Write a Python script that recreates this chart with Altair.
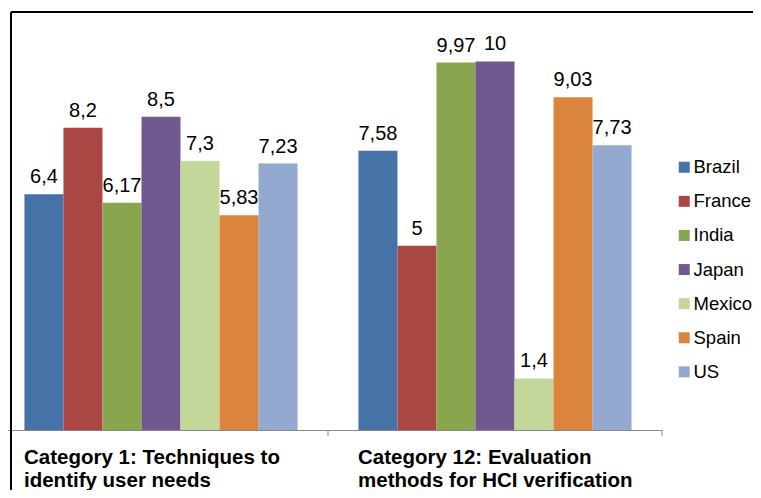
import altair as alt
import pandas as pd

countries = ["Brazil", "France", "India", "Japan", "Mexico", "Spain", "US"]
categories = [
    "Category 1: Techniques to identify user needs",
    "Category 12: Evaluation methods for HCI verification",
]
category_lines = [
    ["Category 1: Techniques to", "identify user needs"],
    ["Category 12: Evaluation", "methods for HCI verification"],
]
cat1_values = [6.4, 8.2, 6.17, 8.5, 7.3, 5.83, 7.23]
cat12_values = [7.58, 5, 9.97, 10, 1.4, 9.03, 7.73]
colors = ["#4572A7", "#AA4643", "#89A54E", "#71588F", "#C4D79B", "#DB843D", "#93A9CF"]

rows = []
for cat, vals in zip(categories, [cat1_values, cat12_values]):
    for c, v in zip(countries, vals):
        rows.append({"category": cat, "country": c, "value": v})
df = pd.DataFrame(rows)
cat_df = pd.DataFrame({"category": categories})

label_expr = (
    f"datum.label == '{categories[0]}' ? {category_lines[0]!r} : {category_lines[1]!r}"
)

FONT = "Liberation Sans"

x_enc = alt.X(
    "category:N",
    sort=categories,
    scale=alt.Scale(range=[-14, 654], paddingInner=0, paddingOuter=0),
    axis=alt.Axis(
        title=None,
        domainColor="#888888",
        domainWidth=1,
        ticks=False,
        labelAngle=0,
        labelAlign="left",
        labelBaseline="alphabetic",
        labelFont=FONT,
        labelFontWeight="bold",
        labelFontSize=20.5,
        labelLineHeight=23.5,
        labelPadding=33,
        labelOffset=-137,
        labelColor="#000000",
        labelLimit=500,
        labelOverlap=False,
        labelFlush=False,
        labelExpr=label_expr,
    ),
)
xoff_enc = alt.XOffset(
    "country:N", sort=countries,
    scale=alt.Scale(paddingInner=0, paddingOuter=0.78),
)
y_enc = alt.Y("value:Q", scale=alt.Scale(domain=[0, 11.343], nice=False, zero=True), axis=None)

bars = alt.Chart(df).mark_bar().encode(
    x=x_enc,
    xOffset=xoff_enc,
    y=y_enc,
    color=alt.Color(
        "country:N",
        sort=countries,
        scale=alt.Scale(domain=countries, range=colors),
        legend=alt.Legend(
            title=None,
            orient="none",
            legendX=667,
            legendY=146,
            symbolType="square",
            symbolSize=121,
            symbolStrokeWidth=0,
            labelFont=FONT,
            labelFontSize=18.5,
            labelColor="#000000",
            labelOffset=0,
            rowPadding=15.1,
            padding=0,
        ),
    ),
)

labels = alt.Chart(df).transform_calculate(
    label="replace(toString(datum.value), '.', ',')"
).mark_text(
    font=FONT, fontSize=20, color="#000000", baseline="alphabetic", align="center", dy=-11
).encode(
    x=alt.X("category:N", sort=categories),
    xOffset=alt.XOffset("country:N", sort=countries),
    y=alt.Y("value:Q"),
    text="label:N",
)

ticks = alt.Chart(cat_df).mark_rule(color="#888888", strokeWidth=1).encode(
    x=alt.X("category:N", sort=categories, bandPosition=1),
    y=alt.value(418),
    y2=alt.value(424),
)

frame_top = alt.Chart(cat_df).mark_rule(color="#000000", strokeWidth=2).encode(
    x=alt.value(3), x2=alt.value(760), y=alt.value(0)
)
frame_left = alt.Chart(cat_df).mark_rule(color="#000000", strokeWidth=2).encode(
    x=alt.value(3), y=alt.value(0), y2=alt.value(500)
)

chart = alt.layer(bars, labels, ticks, frame_top, frame_left).properties(
    width=654,
    height=418,
    padding={"left": 0, "top": 4, "right": 91, "bottom": 60},
    autosize=alt.AutoSizeParams(type="none"),
    background="#ffffff",
).configure_view(stroke=None)

chart.save("out.html", embed_options={"renderer": "svg", "actions": False})
